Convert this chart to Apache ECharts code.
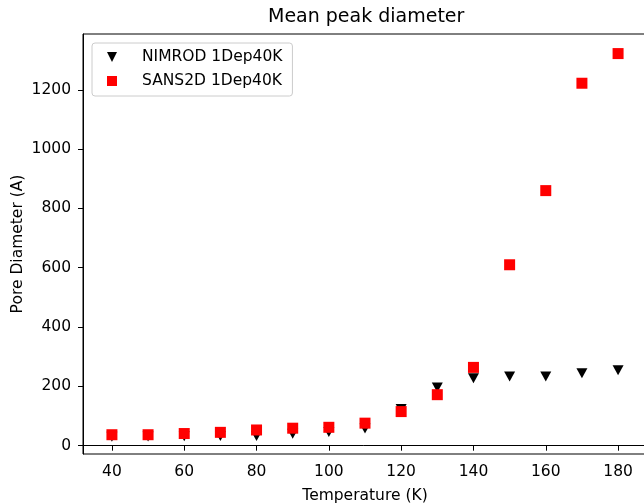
<!DOCTYPE html>
<html>
<head>
<meta charset="utf-8">
<script src="https://cdn.jsdelivr.net/npm/echarts@6/dist/echarts.min.js"></script>
<style>
html,body{margin:0;padding:0;background:#fff;}
#chart{width:644px;height:503px;}
</style>
</head>
<body>
<div id="chart"></div>
<script>
const temperatures = [40, 50, 60, 70, 80, 90, 100, 110, 120, 130, 140, 150, 160, 170, 180];
const nimrod = [30, 31, 32, 33, 33, 40, 46, 58, 124, 196, 227, 233, 233, 244, 254];
const sans2d = [37, 37, 41, 45, 53, 59, 62, 76, 115, 172, 264, 610, 860, 1222, 1322];
const xTicks = [40, 60, 80, 100, 120, 140, 160, 180];
const yTicks = [0, 200, 400, 600, 800, 1000, 1200];
const seriesNames = ['NIMROD 1Dep40K', 'SANS2D 1Dep40K'];

const FONT = 'DejaVu Sans';
const FS = 15.5;
const chart = echarts.init(document.getElementById('chart'), null, {renderer: 'canvas'});
chart.setOption({
  animation: false,
  backgroundColor: '#fff',
  title: {
    text: 'Mean peak diameter',
    left: 268, top: 8, padding: 0,
    textStyle: {fontFamily: FONT, fontSize: 19, fontWeight: 'normal', color: '#000'}
  },
  legend: {
    orient: 'vertical',
    left: 92, top: 43,
    padding: [5, 10, 6, 15],
    itemWidth: 10, itemHeight: 10, itemGap: 6,
    borderColor: '#cccccc', borderWidth: 1, borderRadius: 3,
    backgroundColor: 'rgba(255,255,255,0.8)',
    textStyle: {fontFamily: FONT, fontSize: FS, color: '#000', lineHeight: 18, padding: [0, 0, 0, 20]},
    data: [
      {name: seriesNames[0], icon: 'path://M0,0L10,0L5,10Z', itemStyle: {color: '#000'}},
      {name: seriesNames[1], icon: 'rect', itemStyle: {color: '#ff0000'}}
    ]
  },
  grid: {
    left: 83, top: 34, right: -3, bottom: 49,
    outerBoundsMode: 'none', containLabel: false,
    show: true, borderColor: '#000', borderWidth: 1, backgroundColor: 'transparent'
  },
  xAxis: {
    type: 'value', min: 32, max: 188,
    name: 'Temperature (K)', nameLocation: 'middle', nameGap: 34,
    nameMoveOverlap: false,
    nameTextStyle: {fontFamily: FONT, fontSize: FS, color: '#000'},
    axisLine: {show: true, lineStyle: {color: '#000', width: 1}},
    axisTick: {show: true, length: 5, lineStyle: {color: '#000'}, customValues: xTicks},
    axisLabel: {fontFamily: FONT, fontSize: FS, color: '#000', margin: 10, customValues: xTicks},
    splitLine: {show: false}
  },
  yAxis: {
    type: 'value', min: -28, max: 1388,
    name: 'Pore Diameter (A)', nameLocation: 'middle', nameGap: 57, nameRotate: 90,
    nameMoveOverlap: false,
    nameTextStyle: {fontFamily: FONT, fontSize: FS, color: '#000'},
    axisLine: {show: true, lineStyle: {color: '#000', width: 1}},
    axisTick: {show: true, length: 5, lineStyle: {color: '#000'}, customValues: yTicks},
    axisLabel: {fontFamily: FONT, fontSize: FS, color: '#000', margin: 12, customValues: yTicks,
                formatter: v => String(v)},
    splitLine: {show: false}
  },
  series: [
    {
      name: seriesNames[0], type: 'scatter',
      symbol: 'triangle', symbolRotate: 180, symbolSize: [11, 10],
      itemStyle: {color: '#000000', opacity: 1},
      data: temperatures.map((t, i) => [t, nimrod[i]])
    },
    {
      name: seriesNames[1], type: 'scatter',
      symbol: 'rect', symbolSize: 11,
      itemStyle: {color: '#ff0000', opacity: 1},
      data: temperatures.map((t, i) => [t, sans2d[i]])
    }
  ]
});
</script>
</body>
</html>
